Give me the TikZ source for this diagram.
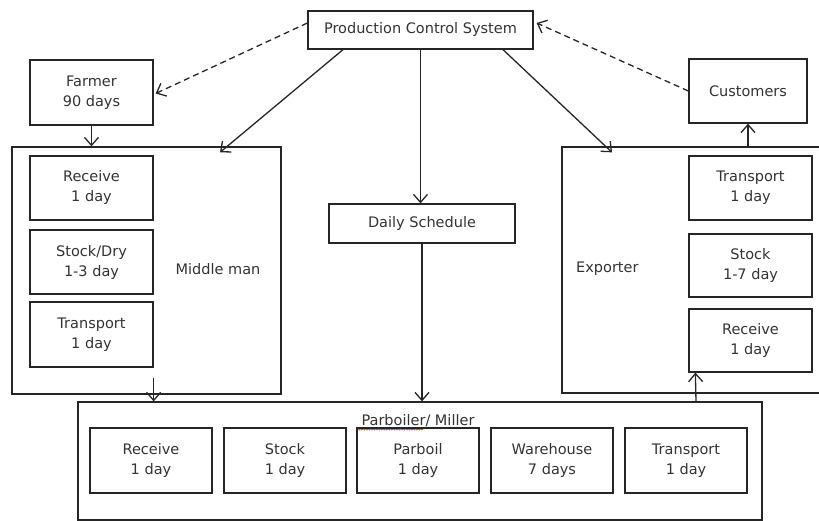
\documentclass[tikz,border=0pt]{standalone}
\usepackage{fontspec}
\setmainfont{DejaVu Sans}
\usetikzlibrary{arrows.meta,calc,decorations.pathmorphing}

\begin{document}
\begin{tikzpicture}[x=1pt, y=-1pt, line width=1.3pt,
	font=\fontsize{14.5}{20}\selectfont, text=black!80,
	box/.style={draw=black!85, align=center, inner sep=0pt},
	arr/.style={-{Straight Barb[length=8pt,width=14pt]}, draw=black!85},
	darr/.style={arr, dash pattern=on 6pt off 4pt}]
	\useasboundingbox (0,0) rectangle (819,521);
	\node[box, minimum width=225pt, minimum height=38pt] (pcs) at (420.5,30) {Production Control System};
	\node[box, minimum width=123pt, minimum height=65pt] (farmer) at (91.5,92.5) {Farmer\\90 days};
	\node[box, minimum width=118pt, minimum height=64pt] (cust) at (748,91) {Customers};
	\node[box, minimum width=186pt, minimum height=39pt] (sched) at (422,223.5) {Daily Schedule};
	\node[box, minimum width=269pt, minimum height=247pt] (mm) at (146.5,270.5) {};
	\node[box, minimum width=123pt, minimum height=64pt] (mmRecv) at (91.5,188) {Receive\\1 day};
	\node[box, minimum width=123pt, minimum height=64pt] (mmStock) at (91.5,262) {Stock/Dry\\1-3 day};
	\node[box, minimum width=123pt, minimum height=65pt] (mmTrans) at (91.5,334.5) {Transport\\1 day};
	\node (mmLbl) at ($(mm.center)+(71.5,-1.5)$) {Middle man};
	\node[box, minimum width=280pt, minimum height=246pt] (exp) at (702,270) {};
	\node[box, minimum width=123pt, minimum height=64pt] (expTrans) at (750.5,188) {Transport\\1 day};
	\node[box, minimum width=123pt, minimum height=63pt] (expStock) at (750.5,265.5) {Stock\\1-7 day};
	\node[box, minimum width=123pt, minimum height=63pt] (expRecv) at (750.5,340.5) {Receive\\1 day};
	\node (expLbl) at ($(exp.west)+(46,-1)$) {Exporter};
	\node[box, minimum width=684pt, minimum height=118pt] (pm) at (420,461) {};
	\node (pmLbl) at ($(pm.north)+(-2,19)$) {Parboiler/ Miller};
	\draw[red!80, line width=0.6pt, decorate, decoration={snake, amplitude=0.7pt, segment length=2.5pt}]
		($(pm.north west)+(280,28)$) -- ++(66,0);
	\foreach \n/\x/\t in {1/151/{Receive\\1 day}, 2/285/{Stock\\1 day}, 3/418/{Parboil\\1 day},
		4/552/{Warehouse\\7 days}, 5/686/{Transport\\1 day}}{
		\node[box, minimum width=122pt, minimum height=65pt] (pm\n) at (\x,460.5) {\t};}
	\draw[darr] ($(pcs.west)+(0,-7)$) -- ($(farmer.east)+(2,1)$);
	\draw[darr] (cust.west) -- ($(pcs.east)+(3,-7)$);
	\draw[arr] ($(pcs.south)+(-77.5,0)$) -- ($(mm.north)+(73.5,6)$);
	\draw[arr] ($(pcs.south)+(82.5,0)$) -- ($(exp.north)+(-90,6)$);
	\draw[arr] (pcs.south) -- (pcs.south |- sched.north);
	\draw[arr] (sched.south) -- (sched.south |- pm.north);
	\draw[arr] (farmer.south) -- (farmer.south |- mm.north);
	\coordinate (mmOut) at ($(mmTrans.south east)+(0,10)$);
	\draw[arr] (mmOut) -- (mmOut |- pm.north);
	\draw[arr] ($(pm.north)+(276,0)$) -- ($(expRecv.south west)+(7,0)$);
	\draw[arr] (exp.north -| cust.south) -- (cust.south);
\end{tikzpicture}
\end{document}
